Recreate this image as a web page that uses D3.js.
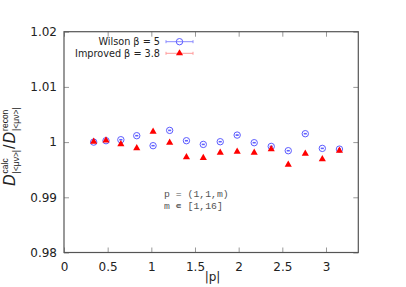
<!DOCTYPE html>
<html>
<head>
<meta charset="utf-8">
<script src="https://cdn.jsdelivr.net/npm/d3@7"></script>
<style>
  body { margin: 0; background: #fff; }
  svg { display: block; }
</style>
</head>
<body>
<div id="chart"></div>
<script>
// |p| for p = (1,1,m), m = 1..16
var pAbs = [0.340, 0.481, 0.651, 0.833, 1.020, 1.210, 1.402, 1.595,
            1.789, 1.983, 2.178, 2.373, 2.568, 2.763, 2.958, 3.154];

var wilson = [1.0000, 1.00025, 1.00043, 1.00116, 0.99935, 1.00212, 1.00025, 0.99958,
              1.00007, 1.00127, 0.99989, 0.99922, 0.99844, 1.00152, 0.99886, 0.99873];
var wilsonErr = [0.00004, 0.00004, 0.00005, 0.00005, 0.00005, 0.00005, 0.00005, 0.00005,
                 0.00005, 0.00005, 0.00005, 0.00005, 0.00005, 0.00005, 0.00005, 0.00005];

var improved = [1.00007, 1.0003, 0.99964, 0.99891, 1.00188, 0.99989, 0.99728, 0.99714,
                0.99808, 0.99826, 0.99808, 0.99873, 0.99591, 0.9979, 0.99692, 0.99844];
var improvedErr = [0.00006, 0.00006, 0.00007, 0.00007, 0.00007, 0.00007, 0.00008, 0.00008,
                   0.00008, 0.00008, 0.00008, 0.00008, 0.00009, 0.00009, 0.00009, 0.00009];

var xTicks = [0, 0.5, 1, 1.5, 2, 2.5, 3];
var yTicks = [0.98, 0.99, 1, 1.01, 1.02];

var svgWidth = 406;
var svgHeight = 287;
var margin = { top: 31.7, right: 47.7, bottom: 34.5, left: 64 };
var width = svgWidth - margin.left - margin.right;
var height = svgHeight - margin.top - margin.bottom;

var blue = "#5c5cff";
var red = "#ff0000";
var pink = "#ff9a9a";

var svg = d3.select("#chart")
  .append("svg")
  .attr("width", svgWidth)
  .attr("height", svgHeight);

var chartGroup = svg.append("g")
  .attr("transform", `translate(${margin.left}, ${margin.top})`);

var xScale = d3.scaleLinear().domain([0, 3.37]).range([0, width]);
var yScale = d3.scaleLinear().domain([0.98, 1.02]).range([height, 0]);

var fontTicks = "'DejaVu Sans', sans-serif";

// axes, ticks pointing inward, mirrored on top and right
function styleAxis(g, labels) {
  g.select(".domain").remove();
  g.selectAll(".tick line").attr("stroke", "#999").attr("stroke-width", 1);
  g.selectAll(".tick text")
    .attr("fill", "#222")
    .attr("font-size", "12px")
    .attr("font-family", fontTicks);
  if (!labels) g.selectAll(".tick text").remove();
}

chartGroup.append("g")
  .attr("transform", `translate(0, ${height})`)
  .call(d3.axisBottom(xScale).tickValues(xTicks).tickSize(-5).tickPadding(10).tickFormat(d3.format("")))
  .call(g => styleAxis(g, true));

chartGroup.append("g")
  .call(d3.axisTop(xScale).tickValues(xTicks).tickSize(-5))
  .call(g => styleAxis(g, false));

chartGroup.append("g")
  .call(d3.axisLeft(yScale).tickValues(yTicks).tickSize(-5).tickPadding(7).tickFormat(d3.format("")))
  .call(g => styleAxis(g, true));

chartGroup.append("g")
  .attr("transform", `translate(${width}, 0)`)
  .call(d3.axisRight(yScale).tickValues(yTicks).tickSize(-5))
  .call(g => styleAxis(g, false));

chartGroup.append("rect")
  .attr("width", width)
  .attr("height", height)
  .attr("fill", "none")
  .attr("stroke", "#555")
  .attr("stroke-width", 1.2);

// error bars
function errorBars(vals, errs, color, cls) {
  var g = chartGroup.append("g").attr("stroke", color).attr("stroke-width", 1);
  g.selectAll("line.v" + cls)
    .data(vals)
    .enter()
    .append("line")
    .attr("x1", (d, i) => xScale(pAbs[i]))
    .attr("x2", (d, i) => xScale(pAbs[i]))
    .attr("y1", (d, i) => yScale(d - errs[i]))
    .attr("y2", (d, i) => yScale(d + errs[i]));
  [-1, 1].forEach(function(s) {
    g.selectAll("line.c" + cls + s)
      .data(vals)
      .enter()
      .append("line")
      .attr("x1", (d, i) => xScale(pAbs[i]) - 1.5)
      .attr("x2", (d, i) => xScale(pAbs[i]) + 1.5)
      .attr("y1", (d, i) => yScale(d + s * errs[i]))
      .attr("y2", (d, i) => yScale(d + s * errs[i]));
  });
}

errorBars(wilson, wilsonErr, blue, "w");
errorBars(improved, improvedErr, pink, "i");

chartGroup.selectAll("circle.w")
  .data(wilson)
  .enter()
  .append("circle")
  .attr("class", "w")
  .attr("cx", (d, i) => xScale(pAbs[i]))
  .attr("cy", d => yScale(d))
  .attr("r", 3.2)
  .attr("fill", "none")
  .attr("stroke", blue)
  .attr("stroke-width", 1);

var tri = d3.symbol().type(d3.symbolTriangle).size(22);

chartGroup.selectAll("path.i")
  .data(improved)
  .enter()
  .append("path")
  .attr("class", "i")
  .attr("d", tri)
  .attr("transform", (d, i) => `translate(${xScale(pAbs[i])}, ${yScale(d)})`)
  .attr("fill", red);

// legend
var legend = [
  { label: "Wilson \u03b2 = 5", y: 41.7, color: blue, line: "#8a8aff", mark: "circle" },
  { label: "Improved \u03b2 = 3.8", y: 53.3, color: red, line: pink, mark: "tri" }
];

legend.forEach(function(l) {
  svg.append("text")
    .attr("x", 160)
    .attr("y", l.y + 3.5)
    .attr("text-anchor", "end")
    .attr("font-family", fontTicks)
    .attr("font-size", "9.7px")
    .attr("fill", "#222")
    .text(l.label);
  svg.append("line")
    .attr("x1", 166).attr("x2", 193)
    .attr("y1", l.y).attr("y2", l.y)
    .attr("stroke", l.line);
  [166, 193].forEach(function(x) {
    svg.append("line")
      .attr("x1", x).attr("x2", x)
      .attr("y1", l.y - 1.5).attr("y2", l.y + 1.5)
      .attr("stroke", l.line);
  });
  if (l.mark === "circle") {
    svg.append("circle")
      .attr("cx", 179.5).attr("cy", l.y).attr("r", 3.2)
      .attr("fill", "none").attr("stroke", l.color);
  } else {
    svg.append("path")
      .attr("d", tri)
      .attr("transform", `translate(179.5, ${l.y})`)
      .attr("fill", l.color);
  }
});

// annotation
var note = svg.append("g")
  .attr("font-family", "'Liberation Mono', monospace")
  .attr("font-size", "9.8px")
  .attr("fill", "#555");
note.append("text").attr("x", 164).attr("y", 197).text("p = (1,1,m)");
note.append("text").attr("x", 164).attr("y", 209).text("m \u220a [1,16]");

// x label
svg.append("text")
  .attr("x", 212.5)
  .attr("y", 281)
  .attr("text-anchor", "middle")
  .attr("font-family", fontTicks)
  .attr("font-size", "12px")
  .attr("fill", "#222")
  .text("|p|");

// y label: D^calc_|<mu nu>| / D^recon_|<mu nu>|
var yLab = svg.append("g")
  .attr("transform", "translate(15, 186) rotate(-90)")
  .attr("font-family", "'Liberation Sans', sans-serif")
  .attr("fill", "#222");

var pos = 0;
function piece(str, size, dy, italic) {
  var t = yLab.append("text")
    .attr("x", pos)
    .attr("y", dy)
    .attr("font-size", size + "px")
    .attr("font-style", italic ? "italic" : "normal")
    .text(str);
  return t.node().getComputedTextLength();
}
function term(sup) {
  pos += piece("D", 16, 0, true) + 1;
  var a = piece(sup, 8.5, -7, false);
  var b = piece("|<\u03bc\u03bd>|", 8.5, 3.5, false);
  pos += Math.max(a, b) + 1;
}
term("calc");
pos += piece("/", 16, 0, false) + 1;
term("recon");
</script>
</body>
</html>
